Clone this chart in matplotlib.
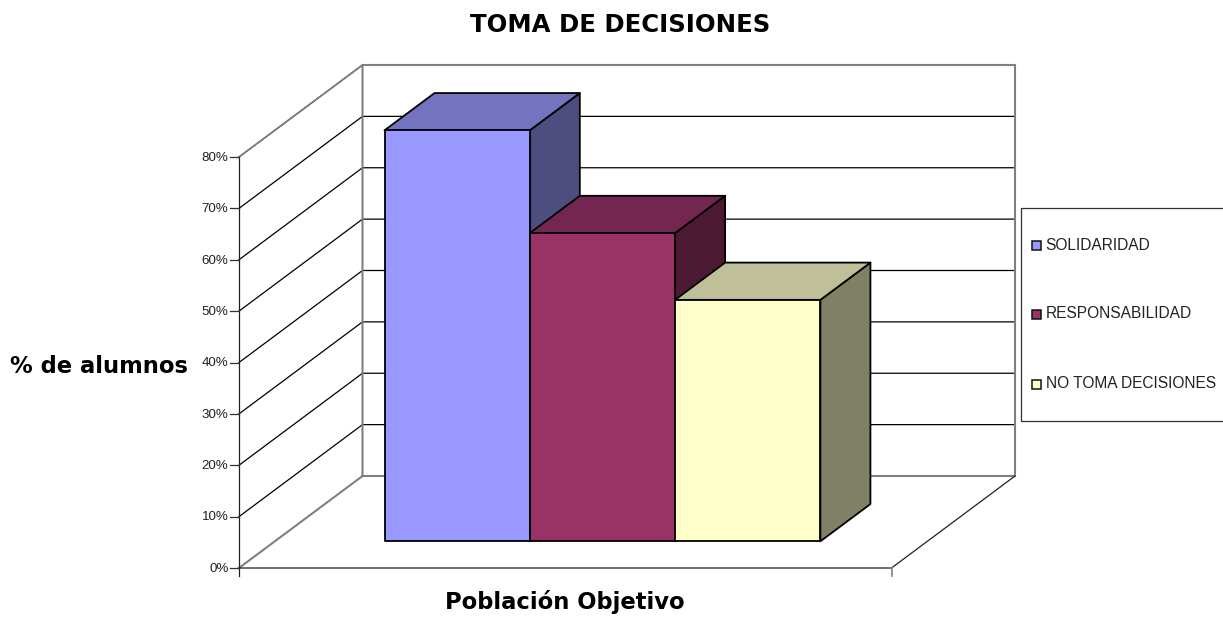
import matplotlib
matplotlib.use("Agg")
import matplotlib.pyplot as plt
from matplotlib.patches import Polygon, Rectangle

plt.rcParams['font.family'] = ['Liberation Sans', 'DejaVu Sans']

title = "TOMA DE DECISIONES"
xlabel = "Población Objetivo"
ylabel = "% de alumnos"
series = ["SOLIDARIDAD", "RESPONSABILIDAD", "NO TOMA DECISIONES"]
values = [80, 60, 47]
front_colors = ["#9999FF", "#993366", "#FFFFCC"]
top_colors = ["#7373BF", "#732650", "#BFBF99"]
side_colors = ["#4D4D80", "#4D1A33", "#808066"]
yticks = [0, 10, 20, 30, 40, 50, 60, 70, 80]

W, H = 1223, 617
fig = plt.figure(figsize=(W / 100, H / 100), dpi=100)
ax = fig.add_axes([0, 0, 1, 1])
ax.set_xlim(0, W)
ax.set_ylim(H, 0)
ax.axis("off")

X0, X1 = 239.0, 891.5
Y0, PX_PER_PCT = 568.0, 411.0 / 80
DX, DY = 123.5, -92.0

def proj(x, v, d=0.0):
    return (x + DX * d, Y0 - v * PX_PER_PCT + DY * d)

GRAY = "#808080"
vmax = yticks[-1]

def line(pts, color="black", lw=0.9, z=2):
    ax.plot(*zip(*pts), color=color, lw=lw, zorder=z, solid_capstyle="projecting")

# gridlines (behind walls' outlines)
for t in yticks[1:]:
    line([proj(X0, t, 0), proj(X0, t, 1), proj(X1, t, 1)])

# gray wall outlines
line([proj(X0, 0, 0), proj(X0, 0, 1), proj(X1, 0, 1), proj(X1, vmax, 1),
      proj(X0, vmax, 1), proj(X0, 0, 1)], color=GRAY, lw=1.5, z=3)
line([proj(X0, vmax, 0), proj(X0, vmax, 1)], color=GRAY, lw=1.2, z=3)

# front floor edges and axis
line([proj(X0, 0, 0), proj(X1, 0, 0), proj(X1, 0, 1)], color="#202020", lw=0.9, z=3)
line([proj(X0, vmax, 0), (X0, Y0 + 8)], color="#202020", lw=0.9, z=3)
line([(X1, Y0), (X1, Y0 + 8)], color=GRAY, lw=1.2, z=3)

for t in yticks:
    x, y = proj(X0, t, 0)
    line([(x - 9, y), (x, y)], color="#303030", lw=0.9, z=3)
    ax.text(x - 10.5, y + 0.8, f"{t}%", ha="right", va="center", fontsize=9.6, color="#222222")

# bars
BAR_W = 145.3
BAR_X0 = X0 + 145.5 - DX * 0.29
D0, D1 = 0.29, 0.695
for i, (val, fc, tc, sc) in enumerate(zip(values, front_colors, top_colors, side_colors)):
    xl = BAR_X0 + i * BAR_W
    xr = xl + BAR_W
    z = 5 + i
    kw = dict(closed=True, ec="black", lw=1.3, zorder=z, joinstyle="round")
    ax.add_patch(Polygon([proj(xr, 0, D0), proj(xr, 0, D1), proj(xr, val, D1), proj(xr, val, D0)], fc=sc, **kw))
    ax.add_patch(Polygon([proj(xl, val, D0), proj(xr, val, D0), proj(xr, val, D1), proj(xl, val, D1)], fc=tc, **kw))
    ax.add_patch(Polygon([proj(xl, 0, D0), proj(xr, 0, D0), proj(xr, val, D0), proj(xl, val, D0)], fc=fc, **kw))

# titles
bold = dict(ha="center", va="baseline", fontweight="bold", family=["DejaVu Sans"])
ax.text(620.5, 32, title, fontsize=17.6, **bold)
ax.text(564.5, 609, xlabel, fontsize=16.3, **bold)
ax.text(99.5, 373, ylabel, fontsize=16.3, **bold)

# legend
ax.add_patch(Rectangle((1020.5, 207.5), 210, 213, fc="white", ec="#303030", lw=0.9, zorder=8))
for name, fc, yy in zip(series, front_colors, [245, 314, 384]):
    ax.add_patch(Rectangle((1032, yy - 4.5), 9, 9, fc=fc, ec="#111111", lw=1.1, zorder=9))
    ax.text(1045.5, yy, name, ha="left", va="center", fontsize=11.2, color="#222222", zorder=9)

fig.savefig("out.png", dpi=100)
